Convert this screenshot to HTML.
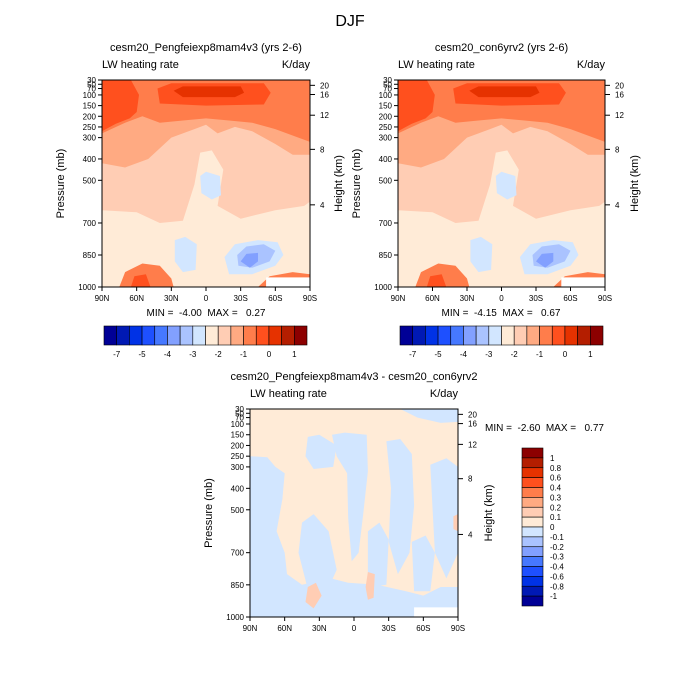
<!DOCTYPE html>
<html><head><meta charset="utf-8"><style>
body{margin:0;background:#fff}
svg{display:block;font-family:"Liberation Sans",sans-serif}
text{white-space:pre}
</style></head><body>
<svg id="s" width="700" height="700" viewBox="0 0 700 700"></svg>
<script>
// ---- data ----
const pressureTicks=[30,50,70,100,150,200,250,300,400,500,700,850,1000];
const heightTicks=[[20,55],[16,98],[12,195],[8,355],[4,615]]; // [km, pressure]
const latTicks=[90,60,30,0,-30,-60,-90];
const latLabels=["90N","60N","30N","0","30S","60S","90S"];
const topLevels=["-7","-5","-4","-3","-2","-1","0","1"];
const topColors=["#000096","#0019b4","#0032e6","#1e50ff","#4678ff","#82a0ff","#aac3ff","#d2e6ff","#ffebd7","#ffcdb4","#ffaa82","#ff7d4b","#ff501e","#e63200","#b41e00","#8c0000"];
const diffLevels=["1","0.8","0.6","0.4","0.3","0.2","0.1","0","-0.1","-0.2","-0.3","-0.4","-0.6","-0.8","-1"];
// contour regions for LW heating rate: [colorIndex, [[lat,p],...]]
const fieldRegions=[
 [9,[[90,30],[-90,30],[-90,1000],[90,1000]]],
 [10,[[90,30],[-90,30],[-90,380],[-75,380],[-60,330],[-40,270],[-25,250],[-10,280],[0,240],[10,260],[30,300],[50,400],[70,440],[90,420]]],
 [11,[[90,30],[-90,30],[-90,320],[-80,300],[-60,260],[-40,230],[-20,220],[0,210],[20,220],[40,230],[55,200],[70,230],[90,280]]],
 [12,[[90,30],[65,30],[58,100],[60,180],[66,210],[78,235],[90,270]]],
 [12,[[42,70],[30,45],[-50,45],[-56,90],[-50,145],[0,150],[40,140]]],
 [13,[[28,80],[20,60],[-30,60],[-33,90],[-25,110],[20,110]]],
 [8,[[90,640],[60,650],[40,700],[20,690],[10,520],[5,370],[-5,360],[-15,450],[-10,620],[-30,680],[-60,640],[-85,620],[-90,600],[-90,1000],[90,1000]]],
 [11,[[75,1000],[70,930],[55,890],[40,900],[30,960],[28,1000]]],
 [12,[[65,1000],[62,950],[52,940],[48,1000]]],
 [11,[[-45,1000],[-55,950],[-75,930],[-90,940],[-90,1000]]],
 [7,[[5,480],[0,460],[-12,480],[-13,570],[-5,590],[4,560]]],
 [7,[[27,780],[18,765],[8,800],[9,920],[20,930],[27,880]]],
 [7,[[-16,860],[-25,800],[-45,780],[-62,790],[-67,850],[-60,900],[-40,940],[-20,940]]],
 [6,[[-27,850],[-35,810],[-50,800],[-60,830],[-55,880],[-40,910],[-28,900]]],
 [5,[[-30,880],[-35,845],[-45,840],[-45,880],[-38,910]]]
];
const diffRegions=[
 ["#ffebd7",[[90,30],[-90,30],[-90,1000],[90,1000]]],
 ["#d2e6ff",[[-40,30],[-90,30],[-90,90],[-75,95],[-55,70]]],
 ["#d2e6ff",[[90,250],[75,255],[68,300],[60,330],[62,450],[67,600],[60,700],[58,800],[45,850],[20,820],[5,840],[-20,850],[-45,880],[-60,900],[-75,860],[-90,860],[-90,1000],[90,1000]]],
 ["#d2e6ff",[[19,150],[8,140],[-11,150],[-12,320],[-8,520],[-4,700],[2,740],[5,540],[6,330],[15,250]]],
 ["#d2e6ff",[[40,160],[30,150],[15,200],[18,300],[35,310],[42,250]]],
 ["#d2e6ff",[[45,560],[35,520],[22,600],[15,780],[25,900],[40,870],[48,700]]],
 ["#d2e6ff",[[-28,180],[-40,170],[-50,240],[-52,480],[-48,700],[-38,800],[-30,650],[-32,400]]],
 ["#d2e6ff",[[-66,290],[-80,260],[-90,300],[-90,700],[-80,820],[-70,700],[-68,500]]],
 ["#d2e6ff",[[-12,600],[-22,560],[-30,640],[-28,850],[-12,860]]],
 ["#d2e6ff",[[-50,650],[-62,620],[-70,700],[-66,880],[-52,880]]],
 ["#ffcdb4",[[40,860],[33,840],[28,900],[35,960],[42,930]]],
 ["#ffcdb4",[[-12,790],[-18,800],[-17,910],[-12,920],[-10,860]]],
 ["#ffcdb4",[[-86,530],[-90,520],[-90,600],[-86,590]]]
];

const NS='http://www.w3.org/2000/svg';
const svg=document.getElementById('s');
function el(tag,attrs,parent){const e=document.createElementNS(NS,tag);for(const k in attrs)e.setAttribute(k,attrs[k]);(parent||svg).appendChild(e);return e;}
function txt(x,y,s,size,anchor,parent,rot){const t=el('text',{x:x,y:y,'font-size':size,'text-anchor':anchor||'middle',fill:'#000'},parent);if(rot)t.setAttribute('transform','rotate(-90 '+x+' '+y+')');t.textContent=s;return t;}

function panel(px,py,w,h,title,minmax,regions,colorMode,name,pLabX,hLabX,mmPos){
  const g=el('g',{});
  
  
  const X=lat=>px+(90-lat)/180*w;
  const Y=p=>py+(p-30)/970*h;
  const cl='c'+name;
  const cp=el('clipPath',{id:cl},g);el('rect',{x:px,y:py,width:w,height:h},cp);
  const fg=el('g',{'clip-path':'url(#'+cl+')'},g);
  regions.forEach(r=>{
    const pts=r[1].map(q=>X(q[0]).toFixed(1)+','+Y(q[1]).toFixed(1)).join(' ');
    const poly=el('polygon',{points:pts,fill:colorMode?r[0]:topColors[r[0]]},fg);
    
    
  });
  el('rect',{x:X(-52),y:Y(955),width:X(-90)-X(-52),height:Y(1000)-Y(955),fill:'#fff'},fg);
  el('rect',{x:px,y:py,width:w,height:h,fill:'none',stroke:'#000','stroke-width':1},g);
  pressureTicks.forEach(p=>{
    el('line',{x1:px-4,y1:Y(p),x2:px,y2:Y(p),stroke:'#000'},g);
    const t=txt(px-6,Y(p)+3,String(p),8,'end',g);
    
  });
  heightTicks.forEach(k=>{
    el('line',{x1:px+w,y1:Y(k[1]),x2:px+w+5,y2:Y(k[1]),stroke:'#000'},g);
    txt(px+w+10,Y(k[1])+3,String(k[0]),8,'start',g);
  });
  latTicks.forEach((l,i)=>{
    el('line',{x1:X(l),y1:py+h,x2:X(l),y2:py+h+4,stroke:'#000'},g);
    const t=txt(X(l),py+h+14,latLabels[i],8,'middle',g);
    
  });
  txt(px+w/2,py-29,title,11,'middle',g);
  txt(px,py-12,'LW heating rate',11,'start',g);
  txt(px+w,py-12,'K/day',11,'end',g);
  txt(pLabX,py+h/2,'Pressure (mb)',11,'middle',g,true);
  txt(hLabX,py+h/2,'Height (km)',11,'middle',g,true);
  txt(mmPos[0],mmPos[1],minmax,10,mmPos[2],g);
}

txt(350,26,'DJF',16,'middle');
panel(102,80,208,207,'cesm20_Pengfeiexp8mam4v3 (yrs 2-6)','MIN =  -4.00  MAX =   0.27',fieldRegions,0,'panel-exp',64,342,[206,316,'middle']);
panel(398,80,207,207,'cesm20_con6yrv2 (yrs 2-6)','MIN =  -4.15  MAX =   0.67',fieldRegions,0,'panel-ctl',360,638,[501,316,'middle']);
panel(250,409,208,208,'cesm20_Pengfeiexp8mam4v3 - cesm20_con6yrv2','MIN =  -2.60  MAX =   0.77',diffRegions,1,'panel-diff',212,492,[485,431,'start']);

function hbar(x0,name){
  const g=el('g',{});
  
  
  const bw=203/16;
  topColors.forEach((c,i)=>{el('rect',{x:x0+i*bw,y:326,width:bw,height:19,fill:c,stroke:'#000','stroke-width':0.6},g);});
  topLevels.forEach((s,i)=>{const j=[1,3,5,7,9,11,13,15][i];txt(x0+j*bw,357,s,8,'middle',g);});
}
hbar(104,'colorbar-exp');
hbar(400,'colorbar-ctl');
(function(){
  const g=el('g',{});
  
  
  const bh=158/16;
  const cols=topColors.slice().reverse();
  cols.forEach((c,i)=>{el('rect',{x:522,y:448+i*bh,width:21,height:bh,fill:c,stroke:'#000','stroke-width':0.6},g);});
  diffLevels.forEach((s,i)=>{txt(550,448+(i+1)*bh+3,s,8,'start',g);});
})();
</script>
</body></html>
